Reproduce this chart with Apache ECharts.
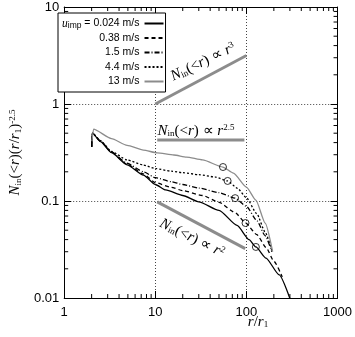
<!DOCTYPE html>
<html>
<head>
<meta charset="utf-8">
<script src="https://cdn.jsdelivr.net/npm/echarts@6/dist/echarts.min.js"></script>
<style>
  html, body { margin: 0; padding: 0; background: #fff; }
  #chart { width: 355px; height: 337px; }
</style>
</head>
<body>
<div id="chart"></div>
<script>
// r / r1 and N_in(<r)(r/r1)^-2.5, one pair per impact speed
const speeds = ['0.024', '0.38', '1.5', '4.4', '13'];

const r0024 = [2.0, 2.04, 2.5, 3.3, 4.9, 7.4, 10, 13, 20, 30, 50, 79, 107, 127, 164, 229, 300];
const n0024 = [0.36, 0.50, 0.41, 0.315, 0.236, 0.185, 0.148, 0.13, 0.114, 0.098, 0.08, 0.056, 0.040, 0.0336, 0.0258, 0.0173, 0.0099];

const r038 = [2.0, 2.04, 2.5, 3.3, 4.9, 7.4, 10, 15, 20, 33, 50, 75, 98, 130, 165, 200, 247];
const n038 = [0.36, 0.50, 0.415, 0.318, 0.24, 0.19, 0.155, 0.138, 0.128, 0.114, 0.097, 0.076, 0.0593, 0.045, 0.033, 0.024, 0.0165];

const r15 = [2.0, 2.04, 2.5, 3.3, 4.9, 7.4, 10, 15, 20, 30, 50, 75, 100, 130, 160, 190];
const n15 = [0.36, 0.50, 0.415, 0.32, 0.245, 0.2, 0.174, 0.158, 0.148, 0.136, 0.122, 0.107, 0.088, 0.063, 0.044, 0.030];

const r44 = [2.0, 2.04, 2.5, 3.3, 4.9, 7.4, 10, 15, 20, 30, 45, 62, 80, 100, 130, 160, 190];
const n44 = [0.36, 0.50, 0.42, 0.325, 0.265, 0.235, 0.216, 0.203, 0.196, 0.187, 0.177, 0.161, 0.135, 0.108, 0.074, 0.048, 0.031];

const r13 = [2.02, 2.1, 3.3, 4.9, 7.4, 10.5, 16, 22, 33, 55, 72, 100, 127, 161, 194];
const n13 = [0.42, 0.55, 0.44, 0.375, 0.335, 0.313, 0.298, 0.284, 0.265, 0.224, 0.194, 0.139, 0.102, 0.059, 0.030];

// open circles on each curve
const circleR = [127, 97.7, 75.2, 62.2, 55.3];
const circleN = [0.0336, 0.0593, 0.107, 0.161, 0.224];

// reference slopes
const slope3 = [[10, 1], [100, 3.16]];
const slope25 = [[10.5, 0.425], [95, 0.425]];
const slope2 = [[10.5, 0.098], [97, 0.0323]];

const xMinor = [2, 3, 4, 5, 6, 7, 8, 9, 20, 30, 40, 50, 60, 70, 80, 90, 200, 300, 400, 500, 600, 700, 800, 900];
const yMinor = [0.02, 0.03, 0.04, 0.05, 0.06, 0.07, 0.08, 0.09, 0.2, 0.3, 0.4, 0.5, 0.6, 0.7, 0.8, 0.9, 2, 3, 4, 5, 6, 7, 8, 9];

const X_MIN = 1, X_MAX = 1000, Y_MIN = 0.01, Y_MAX = 10;

const chart = echarts.init(document.getElementById('chart'));

const pair = (xs, ys) => xs.map((x, i) => [x, ys[i]]);
const styles = [
  { color: '#000', type: 'solid' },
  { color: '#000', type: [4, 3] },
  { color: '#000', type: [5, 2, 1, 2] },
  { color: '#000', type: [2, 2] },
  { color: '#8c8c8c', type: 'solid' }
];
const curves = [pair(r0024, n0024), pair(r038, n038), pair(r15, n15), pair(r44, n44), pair(r13, n13)];

const serif = 'Liberation Serif';
const sans = 'Liberation Sans';
const mathRich = {
  n: { fontFamily: serif, fontStyle: 'italic', fontSize: 15, color: '#000' },
  p: { fontFamily: serif, fontSize: 15, color: '#000' },
  sub: { fontFamily: serif, fontSize: 9, color: '#000', verticalAlign: 'bottom', lineHeight: 15 },
  sup: { fontFamily: serif, fontSize: 9, color: '#000', verticalAlign: 'top', lineHeight: 15 }
};

const baseAxis = {
  type: 'log',
  logBase: 10,
  axisLine: { lineStyle: { color: '#000', width: 1 } },
  axisTick: { inside: true, length: 7, lineStyle: { color: '#000' } },
  splitLine: { show: false }
};

const lineSeries = speeds.map((s, i) => ({
  name: s,
  type: 'line',
  data: curves[i],
  symbol: 'none',
  smooth: 0.2,
  smoothMonotone: 'x',
  lineStyle: { color: styles[i].color, type: styles[i].type, width: 1.3 },
  itemStyle: { color: styles[i].color },
  z: 3
}));

const refSeries = [slope3, slope25, slope2].map(d => ({
  type: 'line',
  data: d,
  symbol: 'none',
  lineStyle: { color: '#8c8c8c', width: 3 },
  silent: true,
  z: 2
}));

const option = {
  animation: false,
  grid: { left: 53, right: 11, top: 7, bottom: 39 },
  xAxis: [
    Object.assign({}, baseAxis, {
      min: X_MIN, max: X_MAX,
      axisLabel: { color: '#000', fontFamily: sans, fontSize: 13, margin: 8, formatter: v => String(v) },
      splitLine: { show: true, lineStyle: { color: '#444', type: [1, 2], width: 1 } }
    }),
    Object.assign({}, baseAxis, {
      min: X_MIN, max: X_MAX, position: 'top', axisLabel: { show: false }
    })
  ],
  yAxis: [
    Object.assign({}, baseAxis, {
      min: Y_MIN, max: Y_MAX,
      axisLabel: { color: '#000', fontFamily: sans, fontSize: 13, margin: 5, formatter: v => String(v) },
      splitLine: { show: true, lineStyle: { color: '#444', type: [1, 2], width: 1 } },
      name: '{n|N}{sub|in}{p|(<}{n|r}{p|)(}{n|r}{p|/}{n|r}{sub|1}{p|)}{sup|-2.5}',
      nameLocation: 'middle',
      nameRotate: 90,
      nameGap: 29,
      nameTextStyle: { rich: mathRich }
    }),
    Object.assign({}, baseAxis, {
      min: Y_MIN, max: Y_MAX, position: 'right', axisLabel: { show: false }
    })
  ],
  legend: {
    data: speeds,
    orient: 'vertical',
    align: 'right',
    left: 58,
    top: 13,
    itemWidth: 19,
    itemHeight: 10,
    itemGap: 1.5,
    padding: [4, 1, 4, 4],
    borderColor: '#000',
    borderWidth: 1,
    backgroundColor: '#fff',
    itemStyle: { opacity: 0 },
    formatter: name => name === '0.024'
      ? '{u|u}{s|imp} = 0.024 m/s'
      : name + ' m/s',
    textStyle: {
      fontFamily: sans, fontSize: 10.5, color: '#000', lineHeight: 13,
      rich: {
        u: { fontFamily: serif, fontStyle: 'italic', fontSize: 11.5, color: '#000', lineHeight: 13 },
        s: { fontFamily: sans, fontSize: 8.5, color: '#000', verticalAlign: 'bottom', lineHeight: 13 }
      }
    }
  },
  graphic: [
    {
      type: 'text', x: 258, y: 322, style: {
        text: '{n|r}{p|/}{n|r}{sub|1}', rich: mathRich, align: 'center', verticalAlign: 'middle'
      }
    },
    {
      type: 'text', x: 203, y: 62, rotation: 0.45, style: {
        text: '{n|N}{sub|in}{p|(<}{n|r}{p|) ∝ }{n|r}{sup|3}', rich: mathRich, align: 'center', verticalAlign: 'middle'
      }
    },
    {
      type: 'text', x: 196, y: 131, style: {
        text: '{n|N}{sub|in}{p|(<}{n|r}{p|) ∝ }{n|r}{sup|2.5}', rich: mathRich, align: 'center', verticalAlign: 'middle'
      }
    },
    {
      type: 'text', x: 192, y: 238, rotation: -0.46, style: {
        text: '{n|N}{sub|in}{p|(<}{n|r}{p|) ∝ }{n|r}{sup|2}', rich: mathRich, align: 'center', verticalAlign: 'middle'
      }
    }
  ],
  series: lineSeries.concat(refSeries, [
    {
      type: 'scatter',
      data: pair(circleR, circleN),
      symbol: 'circle',
      symbolSize: 7,
      itemStyle: { color: 'rgba(0,0,0,0)', borderColor: '#000', borderWidth: 1 },
      z: 4
    },
    {
      // minor ticks on bottom and top
      type: 'custom',
      data: xMinor.map(v => [v, Y_MIN]),
      silent: true,
      clip: false,
      renderItem: (params, api) => {
        const b = api.coord([api.value(0), Y_MIN]);
        const t = api.coord([api.value(0), Y_MAX]);
        const st = { stroke: '#000', lineWidth: 1 };
        return {
          type: 'group', children: [
            { type: 'line', shape: { x1: b[0], y1: b[1], x2: b[0], y2: b[1] - 4 }, style: st },
            { type: 'line', shape: { x1: t[0], y1: t[1], x2: t[0], y2: t[1] + 4 }, style: st }
          ]
        };
      }
    },
    {
      // minor ticks on left and right
      type: 'custom',
      data: yMinor.map(v => [X_MIN, v]),
      silent: true,
      clip: false,
      renderItem: (params, api) => {
        const l = api.coord([X_MIN, api.value(1)]);
        const r = api.coord([X_MAX, api.value(1)]);
        const st = { stroke: '#000', lineWidth: 1 };
        return {
          type: 'group', children: [
            { type: 'line', shape: { x1: l[0], y1: l[1], x2: l[0] + 4, y2: l[1] }, style: st },
            { type: 'line', shape: { x1: r[0], y1: r[1], x2: r[0] - 4, y2: r[1] }, style: st }
          ]
        };
      }
    }
  ])
};

chart.setOption(option);
</script>
</body>
</html>
